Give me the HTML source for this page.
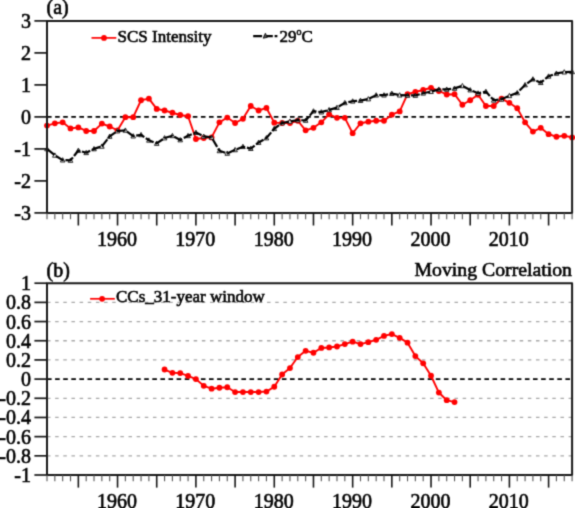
<!DOCTYPE html>
<html><head><meta charset="utf-8"><title>chart</title>
<style>html,body{margin:0;padding:0;background:#fff;width:575px;height:508px;overflow:hidden}svg{display:block}</style>
</head><body>
<svg width="575" height="508" viewBox="0 0 575 508">
<style>text{font-family:'Liberation Serif',serif;fill:#000;stroke:#000;stroke-width:0.6px;filter:grayscale(1)} .t20{font-size:20px} .t16{font-size:17px} .t18{font-size:19.75px}</style>
<defs><filter id="soft" color-interpolation-filters="sRGB" x="0" y="0" width="575" height="508" filterUnits="userSpaceOnUse"><feConvolveMatrix order="3" kernelMatrix="1 4 1 4 16 4 1 4 1" edgeMode="duplicate"/></filter></defs>
<g filter="url(#soft)">
<rect width="575" height="508" fill="#fff"/>
<line x1="47" y1="116.9" x2="572.1" y2="116.9" stroke="#000" stroke-width="1.8" stroke-dasharray="4.6 3.5"/>
<polyline points="47,125.54 54.84,123.3 62.67,122.34 70.51,128.42 78.35,127.46 86.19,130.98 94.02,130.98 101.86,123.62 109.7,126.5 117.54,130.34 125.37,117.22 133.21,117.22 141.05,100.26 148.89,98.66 156.72,108.9 164.56,110.5 172.4,112.74 180.23,114.98 188.07,116.26 195.91,138.98 203.75,138.02 211.58,137.38 219.42,122.34 227.26,117.54 235.1,122.98 242.93,118.82 250.77,106.02 258.61,110.5 266.44,107.94 274.28,122.66 282.12,122.98 289.96,122.98 297.79,120.74 305.63,130.34 313.47,127.78 321.31,122.34 329.14,114.34 336.98,117.86 344.82,117.86 352.66,133.22 360.49,123.3 368.33,121.7 376.17,120.74 384,120.74 391.84,114.66 399.68,111.46 407.52,94.18 415.35,91.94 423.19,90.02 431.03,87.78 438.87,90.98 446.7,94.5 454.54,94.18 462.38,104.74 470.21,100.26 478.05,94.82 485.89,106.02 493.73,106.02 501.56,98.66 509.4,102.82 517.24,108.26 525.08,122.34 532.91,131.62 540.75,127.78 548.59,134.18 556.43,136.74 564.26,135.78 572.1,137.38" fill="none" stroke="#ff0000" stroke-width="1.9" stroke-linejoin="round"/>
<circle cx="47" cy="125.54" r="2.9" fill="#ff0000"/>
<circle cx="54.84" cy="123.3" r="2.9" fill="#ff0000"/>
<circle cx="62.67" cy="122.34" r="2.9" fill="#ff0000"/>
<circle cx="70.51" cy="128.42" r="2.9" fill="#ff0000"/>
<circle cx="78.35" cy="127.46" r="2.9" fill="#ff0000"/>
<circle cx="86.19" cy="130.98" r="2.9" fill="#ff0000"/>
<circle cx="94.02" cy="130.98" r="2.9" fill="#ff0000"/>
<circle cx="101.86" cy="123.62" r="2.9" fill="#ff0000"/>
<circle cx="109.7" cy="126.5" r="2.9" fill="#ff0000"/>
<circle cx="117.54" cy="130.34" r="2.9" fill="#ff0000"/>
<circle cx="125.37" cy="117.22" r="2.9" fill="#ff0000"/>
<circle cx="133.21" cy="117.22" r="2.9" fill="#ff0000"/>
<circle cx="141.05" cy="100.26" r="2.9" fill="#ff0000"/>
<circle cx="148.89" cy="98.66" r="2.9" fill="#ff0000"/>
<circle cx="156.72" cy="108.9" r="2.9" fill="#ff0000"/>
<circle cx="164.56" cy="110.5" r="2.9" fill="#ff0000"/>
<circle cx="172.4" cy="112.74" r="2.9" fill="#ff0000"/>
<circle cx="180.23" cy="114.98" r="2.9" fill="#ff0000"/>
<circle cx="188.07" cy="116.26" r="2.9" fill="#ff0000"/>
<circle cx="195.91" cy="138.98" r="2.9" fill="#ff0000"/>
<circle cx="203.75" cy="138.02" r="2.9" fill="#ff0000"/>
<circle cx="211.58" cy="137.38" r="2.9" fill="#ff0000"/>
<circle cx="219.42" cy="122.34" r="2.9" fill="#ff0000"/>
<circle cx="227.26" cy="117.54" r="2.9" fill="#ff0000"/>
<circle cx="235.1" cy="122.98" r="2.9" fill="#ff0000"/>
<circle cx="242.93" cy="118.82" r="2.9" fill="#ff0000"/>
<circle cx="250.77" cy="106.02" r="2.9" fill="#ff0000"/>
<circle cx="258.61" cy="110.5" r="2.9" fill="#ff0000"/>
<circle cx="266.44" cy="107.94" r="2.9" fill="#ff0000"/>
<circle cx="274.28" cy="122.66" r="2.9" fill="#ff0000"/>
<circle cx="282.12" cy="122.98" r="2.9" fill="#ff0000"/>
<circle cx="289.96" cy="122.98" r="2.9" fill="#ff0000"/>
<circle cx="297.79" cy="120.74" r="2.9" fill="#ff0000"/>
<circle cx="305.63" cy="130.34" r="2.9" fill="#ff0000"/>
<circle cx="313.47" cy="127.78" r="2.9" fill="#ff0000"/>
<circle cx="321.31" cy="122.34" r="2.9" fill="#ff0000"/>
<circle cx="329.14" cy="114.34" r="2.9" fill="#ff0000"/>
<circle cx="336.98" cy="117.86" r="2.9" fill="#ff0000"/>
<circle cx="344.82" cy="117.86" r="2.9" fill="#ff0000"/>
<circle cx="352.66" cy="133.22" r="2.9" fill="#ff0000"/>
<circle cx="360.49" cy="123.3" r="2.9" fill="#ff0000"/>
<circle cx="368.33" cy="121.7" r="2.9" fill="#ff0000"/>
<circle cx="376.17" cy="120.74" r="2.9" fill="#ff0000"/>
<circle cx="384" cy="120.74" r="2.9" fill="#ff0000"/>
<circle cx="391.84" cy="114.66" r="2.9" fill="#ff0000"/>
<circle cx="399.68" cy="111.46" r="2.9" fill="#ff0000"/>
<circle cx="407.52" cy="94.18" r="2.9" fill="#ff0000"/>
<circle cx="415.35" cy="91.94" r="2.9" fill="#ff0000"/>
<circle cx="423.19" cy="90.02" r="2.9" fill="#ff0000"/>
<circle cx="431.03" cy="87.78" r="2.9" fill="#ff0000"/>
<circle cx="438.87" cy="90.98" r="2.9" fill="#ff0000"/>
<circle cx="446.7" cy="94.5" r="2.9" fill="#ff0000"/>
<circle cx="454.54" cy="94.18" r="2.9" fill="#ff0000"/>
<circle cx="462.38" cy="104.74" r="2.9" fill="#ff0000"/>
<circle cx="470.21" cy="100.26" r="2.9" fill="#ff0000"/>
<circle cx="478.05" cy="94.82" r="2.9" fill="#ff0000"/>
<circle cx="485.89" cy="106.02" r="2.9" fill="#ff0000"/>
<circle cx="493.73" cy="106.02" r="2.9" fill="#ff0000"/>
<circle cx="501.56" cy="98.66" r="2.9" fill="#ff0000"/>
<circle cx="509.4" cy="102.82" r="2.9" fill="#ff0000"/>
<circle cx="517.24" cy="108.26" r="2.9" fill="#ff0000"/>
<circle cx="525.08" cy="122.34" r="2.9" fill="#ff0000"/>
<circle cx="532.91" cy="131.62" r="2.9" fill="#ff0000"/>
<circle cx="540.75" cy="127.78" r="2.9" fill="#ff0000"/>
<circle cx="548.59" cy="134.18" r="2.9" fill="#ff0000"/>
<circle cx="556.43" cy="136.74" r="2.9" fill="#ff0000"/>
<circle cx="564.26" cy="135.78" r="2.9" fill="#ff0000"/>
<circle cx="572.1" cy="137.38" r="2.9" fill="#ff0000"/>
<path d="M47 146.5L49.3 150.8H44.7Z" fill="#fff" stroke="#111" stroke-width="0.9"/>
<path d="M54.84 152.9L57.14 157.2H52.54Z" fill="#fff" stroke="#111" stroke-width="0.9"/>
<path d="M62.67 157.7L64.97 162H60.37Z" fill="#fff" stroke="#111" stroke-width="0.9"/>
<path d="M70.51 158.02L72.81 162.32H68.21Z" fill="#fff" stroke="#111" stroke-width="0.9"/>
<path d="M78.35 148.1L80.65 152.4H76.05Z" fill="#fff" stroke="#111" stroke-width="0.9"/>
<path d="M86.19 150.34L88.49 154.64H83.89Z" fill="#fff" stroke="#111" stroke-width="0.9"/>
<path d="M94.02 146.5L96.32 150.8H91.72Z" fill="#fff" stroke="#111" stroke-width="0.9"/>
<path d="M101.86 143.94L104.16 148.24H99.56Z" fill="#fff" stroke="#111" stroke-width="0.9"/>
<path d="M109.7 134.02L112 138.32H107.4Z" fill="#fff" stroke="#111" stroke-width="0.9"/>
<path d="M117.54 128.58L119.84 132.88H115.24Z" fill="#fff" stroke="#111" stroke-width="0.9"/>
<path d="M125.37 127.94L127.67 132.24H123.07Z" fill="#fff" stroke="#111" stroke-width="0.9"/>
<path d="M133.21 133.7L135.51 138H130.91Z" fill="#fff" stroke="#111" stroke-width="0.9"/>
<path d="M141.05 132.42L143.35 136.72H138.75Z" fill="#fff" stroke="#111" stroke-width="0.9"/>
<path d="M148.89 137.86L151.19 142.16H146.59Z" fill="#fff" stroke="#111" stroke-width="0.9"/>
<path d="M156.72 141.06L159.02 145.36H154.42Z" fill="#fff" stroke="#111" stroke-width="0.9"/>
<path d="M164.56 135.62L166.86 139.92H162.26Z" fill="#fff" stroke="#111" stroke-width="0.9"/>
<path d="M172.4 133.38L174.7 137.68H170.1Z" fill="#fff" stroke="#111" stroke-width="0.9"/>
<path d="M180.23 137.54L182.53 141.84H177.93Z" fill="#fff" stroke="#111" stroke-width="0.9"/>
<path d="M188.07 133.38L190.37 137.68H185.77Z" fill="#fff" stroke="#111" stroke-width="0.9"/>
<path d="M195.91 130.18L198.21 134.48H193.61Z" fill="#fff" stroke="#111" stroke-width="0.9"/>
<path d="M203.75 134.02L206.05 138.32H201.45Z" fill="#fff" stroke="#111" stroke-width="0.9"/>
<path d="M211.58 134.98L213.88 139.28H209.28Z" fill="#fff" stroke="#111" stroke-width="0.9"/>
<path d="M219.42 148.42L221.72 152.72H217.12Z" fill="#fff" stroke="#111" stroke-width="0.9"/>
<path d="M227.26 150.98L229.56 155.28H224.96Z" fill="#fff" stroke="#111" stroke-width="0.9"/>
<path d="M235.1 147.46L237.4 151.76H232.8Z" fill="#fff" stroke="#111" stroke-width="0.9"/>
<path d="M242.93 144.26L245.23 148.56H240.63Z" fill="#fff" stroke="#111" stroke-width="0.9"/>
<path d="M250.77 146.18L253.07 150.48H248.47Z" fill="#fff" stroke="#111" stroke-width="0.9"/>
<path d="M258.61 140.1L260.91 144.4H256.31Z" fill="#fff" stroke="#111" stroke-width="0.9"/>
<path d="M266.44 135.62L268.74 139.92H264.14Z" fill="#fff" stroke="#111" stroke-width="0.9"/>
<path d="M274.28 126.34L276.58 130.64H271.98Z" fill="#fff" stroke="#111" stroke-width="0.9"/>
<path d="M282.12 120.58L284.42 124.88H279.82Z" fill="#fff" stroke="#111" stroke-width="0.9"/>
<path d="M289.96 118.98L292.26 123.28H287.66Z" fill="#fff" stroke="#111" stroke-width="0.9"/>
<path d="M297.79 117.7L300.09 122H295.49Z" fill="#fff" stroke="#111" stroke-width="0.9"/>
<path d="M305.63 118.02L307.93 122.32H303.33Z" fill="#fff" stroke="#111" stroke-width="0.9"/>
<path d="M313.47 108.74L315.77 113.04H311.17Z" fill="#fff" stroke="#111" stroke-width="0.9"/>
<path d="M321.31 109.7L323.61 114H319.01Z" fill="#fff" stroke="#111" stroke-width="0.9"/>
<path d="M329.14 107.46L331.44 111.76H326.84Z" fill="#fff" stroke="#111" stroke-width="0.9"/>
<path d="M336.98 105.22L339.28 109.52H334.68Z" fill="#fff" stroke="#111" stroke-width="0.9"/>
<path d="M344.82 100.42L347.12 104.72H342.52Z" fill="#fff" stroke="#111" stroke-width="0.9"/>
<path d="M352.66 98.82L354.96 103.12H350.36Z" fill="#fff" stroke="#111" stroke-width="0.9"/>
<path d="M360.49 98.18L362.79 102.48H358.19Z" fill="#fff" stroke="#111" stroke-width="0.9"/>
<path d="M368.33 96.58L370.63 100.88H366.03Z" fill="#fff" stroke="#111" stroke-width="0.9"/>
<path d="M376.17 92.74L378.47 97.04H373.87Z" fill="#fff" stroke="#111" stroke-width="0.9"/>
<path d="M384 92.74L386.3 97.04H381.7Z" fill="#fff" stroke="#111" stroke-width="0.9"/>
<path d="M391.84 91.14L394.14 95.44H389.54Z" fill="#fff" stroke="#111" stroke-width="0.9"/>
<path d="M399.68 92.74L401.98 97.04H397.38Z" fill="#fff" stroke="#111" stroke-width="0.9"/>
<path d="M407.52 93.06L409.82 97.36H405.22Z" fill="#fff" stroke="#111" stroke-width="0.9"/>
<path d="M415.35 93.06L417.65 97.36H413.05Z" fill="#fff" stroke="#111" stroke-width="0.9"/>
<path d="M423.19 90.82L425.49 95.12H420.89Z" fill="#fff" stroke="#111" stroke-width="0.9"/>
<path d="M431.03 89.22L433.33 93.52H428.73Z" fill="#fff" stroke="#111" stroke-width="0.9"/>
<path d="M438.87 86.98L441.17 91.28H436.57Z" fill="#fff" stroke="#111" stroke-width="0.9"/>
<path d="M446.7 86.98L449 91.28H444.4Z" fill="#fff" stroke="#111" stroke-width="0.9"/>
<path d="M454.54 86.02L456.84 90.32H452.24Z" fill="#fff" stroke="#111" stroke-width="0.9"/>
<path d="M462.38 83.46L464.68 87.76H460.08Z" fill="#fff" stroke="#111" stroke-width="0.9"/>
<path d="M470.21 87.62L472.51 91.92H467.91Z" fill="#fff" stroke="#111" stroke-width="0.9"/>
<path d="M478.05 90.82L480.35 95.12H475.75Z" fill="#fff" stroke="#111" stroke-width="0.9"/>
<path d="M485.89 89.22L488.19 93.52H483.59Z" fill="#fff" stroke="#111" stroke-width="0.9"/>
<path d="M493.73 97.86L496.03 102.16H491.43Z" fill="#fff" stroke="#111" stroke-width="0.9"/>
<path d="M501.56 96.9L503.86 101.2H499.26Z" fill="#fff" stroke="#111" stroke-width="0.9"/>
<path d="M509.4 93.38L511.7 97.68H507.1Z" fill="#fff" stroke="#111" stroke-width="0.9"/>
<path d="M517.24 90.5L519.54 94.8H514.94Z" fill="#fff" stroke="#111" stroke-width="0.9"/>
<path d="M525.08 82.5L527.38 86.8H522.78Z" fill="#fff" stroke="#111" stroke-width="0.9"/>
<path d="M532.91 76.74L535.21 81.04H530.61Z" fill="#fff" stroke="#111" stroke-width="0.9"/>
<path d="M540.75 80.26L543.05 84.56H538.45Z" fill="#fff" stroke="#111" stroke-width="0.9"/>
<path d="M548.59 73.86L550.89 78.16H546.29Z" fill="#fff" stroke="#111" stroke-width="0.9"/>
<path d="M556.43 70.98L558.73 75.28H554.13Z" fill="#fff" stroke="#111" stroke-width="0.9"/>
<path d="M564.26 69.7L566.56 74H561.96Z" fill="#fff" stroke="#111" stroke-width="0.9"/>
<path d="M572.1 69.38L574.4 73.68H569.8Z" fill="#fff" stroke="#111" stroke-width="0.9"/>
<polyline points="47,148.9 54.84,155.3 62.67,160.1 70.51,160.42 78.35,150.5 86.19,152.74 94.02,148.9 101.86,146.34 109.7,136.42 117.54,130.98 125.37,130.34 133.21,136.1 141.05,134.82 148.89,140.26 156.72,143.46 164.56,138.02 172.4,135.78 180.23,139.94 188.07,135.78 195.91,132.58 203.75,136.42 211.58,137.38 219.42,150.82 227.26,153.38 235.1,149.86 242.93,146.66 250.77,148.58 258.61,142.5 266.44,138.02 274.28,128.74 282.12,122.98 289.96,121.38 297.79,120.1 305.63,120.42 313.47,111.14 321.31,112.1 329.14,109.86 336.98,107.62 344.82,102.82 352.66,101.22 360.49,100.58 368.33,98.98 376.17,95.14 384,95.14 391.84,93.54 399.68,95.14 407.52,95.46 415.35,95.46 423.19,93.22 431.03,91.62 438.87,89.38 446.7,89.38 454.54,88.42 462.38,85.86 470.21,90.02 478.05,93.22 485.89,91.62 493.73,100.26 501.56,99.3 509.4,95.78 517.24,92.9 525.08,84.9 532.91,79.14 540.75,82.66 548.59,76.26 556.43,73.38 564.26,72.1 572.1,71.78" fill="none" stroke="#000" stroke-width="2.2" stroke-linejoin="round" stroke-dasharray="8.9 1.8" stroke-dashoffset="-0.7"/>
<path d="M47 20.9H572.1V212.9H47Z" fill="none" stroke="#181818" stroke-width="2.0" stroke-linejoin="round"/>
<line x1="34.4" y1="212.9" x2="47" y2="212.9" stroke="#181818" stroke-width="1.7"/>
<text x="31" y="219.9" text-anchor="end" class="t20">-3</text>
<line x1="34.4" y1="180.9" x2="47" y2="180.9" stroke="#181818" stroke-width="1.7"/>
<text x="31" y="187.9" text-anchor="end" class="t20">-2</text>
<line x1="34.4" y1="148.9" x2="47" y2="148.9" stroke="#181818" stroke-width="1.7"/>
<text x="31" y="155.9" text-anchor="end" class="t20">-1</text>
<line x1="34.4" y1="116.9" x2="47" y2="116.9" stroke="#181818" stroke-width="1.7"/>
<text x="31" y="123.9" text-anchor="end" class="t20">0</text>
<line x1="34.4" y1="84.9" x2="47" y2="84.9" stroke="#181818" stroke-width="1.7"/>
<text x="31" y="91.9" text-anchor="end" class="t20">1</text>
<line x1="34.4" y1="52.9" x2="47" y2="52.9" stroke="#181818" stroke-width="1.7"/>
<text x="31" y="59.9" text-anchor="end" class="t20">2</text>
<line x1="34.4" y1="20.9" x2="47" y2="20.9" stroke="#181818" stroke-width="1.7"/>
<text x="31" y="27.9" text-anchor="end" class="t20">3</text>
<line x1="47" y1="212.9" x2="47" y2="219.2" stroke="#555" stroke-width="1.1"/>
<line x1="54.84" y1="212.9" x2="54.84" y2="219.2" stroke="#555" stroke-width="1.1"/>
<line x1="62.67" y1="212.9" x2="62.67" y2="219.2" stroke="#555" stroke-width="1.1"/>
<line x1="70.51" y1="212.9" x2="70.51" y2="219.2" stroke="#555" stroke-width="1.1"/>
<line x1="78.35" y1="212.9" x2="78.35" y2="225.5" stroke="#181818" stroke-width="1.6"/>
<line x1="86.19" y1="212.9" x2="86.19" y2="219.2" stroke="#555" stroke-width="1.1"/>
<line x1="94.02" y1="212.9" x2="94.02" y2="219.2" stroke="#555" stroke-width="1.1"/>
<line x1="101.86" y1="212.9" x2="101.86" y2="219.2" stroke="#555" stroke-width="1.1"/>
<line x1="109.7" y1="212.9" x2="109.7" y2="219.2" stroke="#555" stroke-width="1.1"/>
<line x1="117.54" y1="212.9" x2="117.54" y2="225.5" stroke="#181818" stroke-width="1.6"/>
<line x1="125.37" y1="212.9" x2="125.37" y2="219.2" stroke="#555" stroke-width="1.1"/>
<line x1="133.21" y1="212.9" x2="133.21" y2="219.2" stroke="#555" stroke-width="1.1"/>
<line x1="141.05" y1="212.9" x2="141.05" y2="219.2" stroke="#555" stroke-width="1.1"/>
<line x1="148.89" y1="212.9" x2="148.89" y2="219.2" stroke="#555" stroke-width="1.1"/>
<line x1="156.72" y1="212.9" x2="156.72" y2="225.5" stroke="#181818" stroke-width="1.6"/>
<line x1="164.56" y1="212.9" x2="164.56" y2="219.2" stroke="#555" stroke-width="1.1"/>
<line x1="172.4" y1="212.9" x2="172.4" y2="219.2" stroke="#555" stroke-width="1.1"/>
<line x1="180.23" y1="212.9" x2="180.23" y2="219.2" stroke="#555" stroke-width="1.1"/>
<line x1="188.07" y1="212.9" x2="188.07" y2="219.2" stroke="#555" stroke-width="1.1"/>
<line x1="195.91" y1="212.9" x2="195.91" y2="225.5" stroke="#181818" stroke-width="1.6"/>
<line x1="203.75" y1="212.9" x2="203.75" y2="219.2" stroke="#555" stroke-width="1.1"/>
<line x1="211.58" y1="212.9" x2="211.58" y2="219.2" stroke="#555" stroke-width="1.1"/>
<line x1="219.42" y1="212.9" x2="219.42" y2="219.2" stroke="#555" stroke-width="1.1"/>
<line x1="227.26" y1="212.9" x2="227.26" y2="219.2" stroke="#555" stroke-width="1.1"/>
<line x1="235.1" y1="212.9" x2="235.1" y2="225.5" stroke="#181818" stroke-width="1.6"/>
<line x1="242.93" y1="212.9" x2="242.93" y2="219.2" stroke="#555" stroke-width="1.1"/>
<line x1="250.77" y1="212.9" x2="250.77" y2="219.2" stroke="#555" stroke-width="1.1"/>
<line x1="258.61" y1="212.9" x2="258.61" y2="219.2" stroke="#555" stroke-width="1.1"/>
<line x1="266.44" y1="212.9" x2="266.44" y2="219.2" stroke="#555" stroke-width="1.1"/>
<line x1="274.28" y1="212.9" x2="274.28" y2="225.5" stroke="#181818" stroke-width="1.6"/>
<line x1="282.12" y1="212.9" x2="282.12" y2="219.2" stroke="#555" stroke-width="1.1"/>
<line x1="289.96" y1="212.9" x2="289.96" y2="219.2" stroke="#555" stroke-width="1.1"/>
<line x1="297.79" y1="212.9" x2="297.79" y2="219.2" stroke="#555" stroke-width="1.1"/>
<line x1="305.63" y1="212.9" x2="305.63" y2="219.2" stroke="#555" stroke-width="1.1"/>
<line x1="313.47" y1="212.9" x2="313.47" y2="225.5" stroke="#181818" stroke-width="1.6"/>
<line x1="321.31" y1="212.9" x2="321.31" y2="219.2" stroke="#555" stroke-width="1.1"/>
<line x1="329.14" y1="212.9" x2="329.14" y2="219.2" stroke="#555" stroke-width="1.1"/>
<line x1="336.98" y1="212.9" x2="336.98" y2="219.2" stroke="#555" stroke-width="1.1"/>
<line x1="344.82" y1="212.9" x2="344.82" y2="219.2" stroke="#555" stroke-width="1.1"/>
<line x1="352.66" y1="212.9" x2="352.66" y2="225.5" stroke="#181818" stroke-width="1.6"/>
<line x1="360.49" y1="212.9" x2="360.49" y2="219.2" stroke="#555" stroke-width="1.1"/>
<line x1="368.33" y1="212.9" x2="368.33" y2="219.2" stroke="#555" stroke-width="1.1"/>
<line x1="376.17" y1="212.9" x2="376.17" y2="219.2" stroke="#555" stroke-width="1.1"/>
<line x1="384" y1="212.9" x2="384" y2="219.2" stroke="#555" stroke-width="1.1"/>
<line x1="391.84" y1="212.9" x2="391.84" y2="225.5" stroke="#181818" stroke-width="1.6"/>
<line x1="399.68" y1="212.9" x2="399.68" y2="219.2" stroke="#555" stroke-width="1.1"/>
<line x1="407.52" y1="212.9" x2="407.52" y2="219.2" stroke="#555" stroke-width="1.1"/>
<line x1="415.35" y1="212.9" x2="415.35" y2="219.2" stroke="#555" stroke-width="1.1"/>
<line x1="423.19" y1="212.9" x2="423.19" y2="219.2" stroke="#555" stroke-width="1.1"/>
<line x1="431.03" y1="212.9" x2="431.03" y2="225.5" stroke="#181818" stroke-width="1.6"/>
<line x1="438.87" y1="212.9" x2="438.87" y2="219.2" stroke="#555" stroke-width="1.1"/>
<line x1="446.7" y1="212.9" x2="446.7" y2="219.2" stroke="#555" stroke-width="1.1"/>
<line x1="454.54" y1="212.9" x2="454.54" y2="219.2" stroke="#555" stroke-width="1.1"/>
<line x1="462.38" y1="212.9" x2="462.38" y2="219.2" stroke="#555" stroke-width="1.1"/>
<line x1="470.21" y1="212.9" x2="470.21" y2="225.5" stroke="#181818" stroke-width="1.6"/>
<line x1="478.05" y1="212.9" x2="478.05" y2="219.2" stroke="#555" stroke-width="1.1"/>
<line x1="485.89" y1="212.9" x2="485.89" y2="219.2" stroke="#555" stroke-width="1.1"/>
<line x1="493.73" y1="212.9" x2="493.73" y2="219.2" stroke="#555" stroke-width="1.1"/>
<line x1="501.56" y1="212.9" x2="501.56" y2="219.2" stroke="#555" stroke-width="1.1"/>
<line x1="509.4" y1="212.9" x2="509.4" y2="225.5" stroke="#181818" stroke-width="1.6"/>
<line x1="517.24" y1="212.9" x2="517.24" y2="219.2" stroke="#555" stroke-width="1.1"/>
<line x1="525.08" y1="212.9" x2="525.08" y2="219.2" stroke="#555" stroke-width="1.1"/>
<line x1="532.91" y1="212.9" x2="532.91" y2="219.2" stroke="#555" stroke-width="1.1"/>
<line x1="540.75" y1="212.9" x2="540.75" y2="219.2" stroke="#555" stroke-width="1.1"/>
<line x1="548.59" y1="212.9" x2="548.59" y2="225.5" stroke="#181818" stroke-width="1.6"/>
<line x1="556.43" y1="212.9" x2="556.43" y2="219.2" stroke="#555" stroke-width="1.1"/>
<line x1="564.26" y1="212.9" x2="564.26" y2="219.2" stroke="#555" stroke-width="1.1"/>
<line x1="572.1" y1="212.9" x2="572.1" y2="219.2" stroke="#555" stroke-width="1.1"/>
<text x="116.94" y="245.7" text-anchor="middle" class="t20">1960</text>
<text x="195.31" y="245.7" text-anchor="middle" class="t20">1970</text>
<text x="273.68" y="245.7" text-anchor="middle" class="t20">1980</text>
<text x="352.06" y="245.7" text-anchor="middle" class="t20">1990</text>
<text x="430.43" y="245.7" text-anchor="middle" class="t20">2000</text>
<text x="508.8" y="245.7" text-anchor="middle" class="t20">2010</text>
<text x="46.5" y="13.9" class="t20">(a)</text>
<line x1="91.5" y1="37.9" x2="116.3" y2="37.9" stroke="#ff0000" stroke-width="1.7"/>
<circle cx="104" cy="37.9" r="2.9" fill="#ff0000"/>
<text x="117.5" y="42.2" class="t16">SCS Intensity</text>
<line x1="253.2" y1="36.1" x2="277.4" y2="36.1" stroke="#000" stroke-width="2.4" stroke-dasharray="8.9 1.8"/>
<path d="M265.4 33.2L267.3 37.4L263.2 38.2Z" fill="#555" stroke="#111" stroke-width="0.9"/>
<text x="279.5" y="42.4" class="t16">29<tspan font-size="10" dy="-7.4">o</tspan><tspan dy="7.4">C</tspan></text>
<line x1="47" y1="455.82" x2="572.1" y2="455.82" stroke="#a8a8a8" stroke-width="1.3" stroke-dasharray="3.5 4.65"/>
<line x1="47" y1="436.64" x2="572.1" y2="436.64" stroke="#a8a8a8" stroke-width="1.3" stroke-dasharray="3.5 4.65"/>
<line x1="47" y1="417.46" x2="572.1" y2="417.46" stroke="#a8a8a8" stroke-width="1.3" stroke-dasharray="3.5 4.65"/>
<line x1="47" y1="398.28" x2="572.1" y2="398.28" stroke="#a8a8a8" stroke-width="1.3" stroke-dasharray="3.5 4.65"/>
<line x1="47" y1="359.92" x2="572.1" y2="359.92" stroke="#a8a8a8" stroke-width="1.3" stroke-dasharray="3.5 4.65"/>
<line x1="47" y1="340.74" x2="572.1" y2="340.74" stroke="#a8a8a8" stroke-width="1.3" stroke-dasharray="3.5 4.65"/>
<line x1="47" y1="321.56" x2="572.1" y2="321.56" stroke="#a8a8a8" stroke-width="1.3" stroke-dasharray="3.5 4.65"/>
<line x1="47" y1="302.38" x2="572.1" y2="302.38" stroke="#a8a8a8" stroke-width="1.3" stroke-dasharray="3.5 4.65"/>
<line x1="47" y1="379.1" x2="572.1" y2="379.1" stroke="#000" stroke-width="1.8" stroke-dasharray="4.6 3.5"/>
<polyline points="164.56,369.51 172.4,372.87 180.23,373.06 188.07,375.94 195.91,379.1 203.75,385.81 211.58,388.69 219.42,387.73 227.26,387.25 235.1,392.05 242.93,392.05 250.77,392.05 258.61,392.05 266.44,391.57 274.28,386.77 282.12,374.5 289.96,368.07 297.79,357.04 305.63,350.81 313.47,352.73 321.31,347.93 329.14,347.45 336.98,346.49 344.82,344.1 352.66,341.7 360.49,344.1 368.33,342.18 376.17,339.78 384,335.95 391.84,334.03 399.68,337.86 407.52,342.66 415.35,356.08 423.19,363.28 431.03,375.74 438.87,392.53 446.7,400.2 454.54,402.12" fill="none" stroke="#ff0000" stroke-width="1.9" stroke-linejoin="round"/>
<circle cx="164.56" cy="369.51" r="2.9" fill="#ff0000"/>
<circle cx="172.4" cy="372.87" r="2.9" fill="#ff0000"/>
<circle cx="180.23" cy="373.06" r="2.9" fill="#ff0000"/>
<circle cx="188.07" cy="375.94" r="2.9" fill="#ff0000"/>
<circle cx="195.91" cy="379.1" r="2.9" fill="#ff0000"/>
<circle cx="203.75" cy="385.81" r="2.9" fill="#ff0000"/>
<circle cx="211.58" cy="388.69" r="2.9" fill="#ff0000"/>
<circle cx="219.42" cy="387.73" r="2.9" fill="#ff0000"/>
<circle cx="227.26" cy="387.25" r="2.9" fill="#ff0000"/>
<circle cx="235.1" cy="392.05" r="2.9" fill="#ff0000"/>
<circle cx="242.93" cy="392.05" r="2.9" fill="#ff0000"/>
<circle cx="250.77" cy="392.05" r="2.9" fill="#ff0000"/>
<circle cx="258.61" cy="392.05" r="2.9" fill="#ff0000"/>
<circle cx="266.44" cy="391.57" r="2.9" fill="#ff0000"/>
<circle cx="274.28" cy="386.77" r="2.9" fill="#ff0000"/>
<circle cx="282.12" cy="374.5" r="2.9" fill="#ff0000"/>
<circle cx="289.96" cy="368.07" r="2.9" fill="#ff0000"/>
<circle cx="297.79" cy="357.04" r="2.9" fill="#ff0000"/>
<circle cx="305.63" cy="350.81" r="2.9" fill="#ff0000"/>
<circle cx="313.47" cy="352.73" r="2.9" fill="#ff0000"/>
<circle cx="321.31" cy="347.93" r="2.9" fill="#ff0000"/>
<circle cx="329.14" cy="347.45" r="2.9" fill="#ff0000"/>
<circle cx="336.98" cy="346.49" r="2.9" fill="#ff0000"/>
<circle cx="344.82" cy="344.1" r="2.9" fill="#ff0000"/>
<circle cx="352.66" cy="341.7" r="2.9" fill="#ff0000"/>
<circle cx="360.49" cy="344.1" r="2.9" fill="#ff0000"/>
<circle cx="368.33" cy="342.18" r="2.9" fill="#ff0000"/>
<circle cx="376.17" cy="339.78" r="2.9" fill="#ff0000"/>
<circle cx="384" cy="335.95" r="2.9" fill="#ff0000"/>
<circle cx="391.84" cy="334.03" r="2.9" fill="#ff0000"/>
<circle cx="399.68" cy="337.86" r="2.9" fill="#ff0000"/>
<circle cx="407.52" cy="342.66" r="2.9" fill="#ff0000"/>
<circle cx="415.35" cy="356.08" r="2.9" fill="#ff0000"/>
<circle cx="423.19" cy="363.28" r="2.9" fill="#ff0000"/>
<circle cx="431.03" cy="375.74" r="2.9" fill="#ff0000"/>
<circle cx="438.87" cy="392.53" r="2.9" fill="#ff0000"/>
<circle cx="446.7" cy="400.2" r="2.9" fill="#ff0000"/>
<circle cx="454.54" cy="402.12" r="2.9" fill="#ff0000"/>
<path d="M47 283.2H572.1V475H47Z" fill="none" stroke="#181818" stroke-width="2.0" stroke-linejoin="round"/>
<line x1="34.4" y1="475" x2="47" y2="475" stroke="#181818" stroke-width="1.7"/>
<text x="31" y="482" text-anchor="end" class="t20">-1</text>
<line x1="34.4" y1="455.82" x2="47" y2="455.82" stroke="#181818" stroke-width="1.7"/>
<text x="31" y="462.82" text-anchor="end" class="t20">-0.8</text>
<line x1="34.4" y1="436.64" x2="47" y2="436.64" stroke="#181818" stroke-width="1.7"/>
<text x="31" y="443.64" text-anchor="end" class="t20">-0.6</text>
<line x1="34.4" y1="417.46" x2="47" y2="417.46" stroke="#181818" stroke-width="1.7"/>
<text x="31" y="424.46" text-anchor="end" class="t20">-0.4</text>
<line x1="34.4" y1="398.28" x2="47" y2="398.28" stroke="#181818" stroke-width="1.7"/>
<text x="31" y="405.28" text-anchor="end" class="t20">-0.2</text>
<line x1="34.4" y1="379.1" x2="47" y2="379.1" stroke="#181818" stroke-width="1.7"/>
<text x="31" y="386.1" text-anchor="end" class="t20">0</text>
<line x1="34.4" y1="359.92" x2="47" y2="359.92" stroke="#181818" stroke-width="1.7"/>
<text x="31" y="366.92" text-anchor="end" class="t20">0.2</text>
<line x1="34.4" y1="340.74" x2="47" y2="340.74" stroke="#181818" stroke-width="1.7"/>
<text x="31" y="347.74" text-anchor="end" class="t20">0.4</text>
<line x1="34.4" y1="321.56" x2="47" y2="321.56" stroke="#181818" stroke-width="1.7"/>
<text x="31" y="328.56" text-anchor="end" class="t20">0.6</text>
<line x1="34.4" y1="302.38" x2="47" y2="302.38" stroke="#181818" stroke-width="1.7"/>
<text x="31" y="309.38" text-anchor="end" class="t20">0.8</text>
<line x1="34.4" y1="283.2" x2="47" y2="283.2" stroke="#181818" stroke-width="1.7"/>
<text x="31" y="290.2" text-anchor="end" class="t20">1</text>
<line x1="47" y1="475" x2="47" y2="481.3" stroke="#555" stroke-width="1.1"/>
<line x1="54.84" y1="475" x2="54.84" y2="481.3" stroke="#555" stroke-width="1.1"/>
<line x1="62.67" y1="475" x2="62.67" y2="481.3" stroke="#555" stroke-width="1.1"/>
<line x1="70.51" y1="475" x2="70.51" y2="481.3" stroke="#555" stroke-width="1.1"/>
<line x1="78.35" y1="475" x2="78.35" y2="487.6" stroke="#181818" stroke-width="1.6"/>
<line x1="86.19" y1="475" x2="86.19" y2="481.3" stroke="#555" stroke-width="1.1"/>
<line x1="94.02" y1="475" x2="94.02" y2="481.3" stroke="#555" stroke-width="1.1"/>
<line x1="101.86" y1="475" x2="101.86" y2="481.3" stroke="#555" stroke-width="1.1"/>
<line x1="109.7" y1="475" x2="109.7" y2="481.3" stroke="#555" stroke-width="1.1"/>
<line x1="117.54" y1="475" x2="117.54" y2="487.6" stroke="#181818" stroke-width="1.6"/>
<line x1="125.37" y1="475" x2="125.37" y2="481.3" stroke="#555" stroke-width="1.1"/>
<line x1="133.21" y1="475" x2="133.21" y2="481.3" stroke="#555" stroke-width="1.1"/>
<line x1="141.05" y1="475" x2="141.05" y2="481.3" stroke="#555" stroke-width="1.1"/>
<line x1="148.89" y1="475" x2="148.89" y2="481.3" stroke="#555" stroke-width="1.1"/>
<line x1="156.72" y1="475" x2="156.72" y2="487.6" stroke="#181818" stroke-width="1.6"/>
<line x1="164.56" y1="475" x2="164.56" y2="481.3" stroke="#555" stroke-width="1.1"/>
<line x1="172.4" y1="475" x2="172.4" y2="481.3" stroke="#555" stroke-width="1.1"/>
<line x1="180.23" y1="475" x2="180.23" y2="481.3" stroke="#555" stroke-width="1.1"/>
<line x1="188.07" y1="475" x2="188.07" y2="481.3" stroke="#555" stroke-width="1.1"/>
<line x1="195.91" y1="475" x2="195.91" y2="487.6" stroke="#181818" stroke-width="1.6"/>
<line x1="203.75" y1="475" x2="203.75" y2="481.3" stroke="#555" stroke-width="1.1"/>
<line x1="211.58" y1="475" x2="211.58" y2="481.3" stroke="#555" stroke-width="1.1"/>
<line x1="219.42" y1="475" x2="219.42" y2="481.3" stroke="#555" stroke-width="1.1"/>
<line x1="227.26" y1="475" x2="227.26" y2="481.3" stroke="#555" stroke-width="1.1"/>
<line x1="235.1" y1="475" x2="235.1" y2="487.6" stroke="#181818" stroke-width="1.6"/>
<line x1="242.93" y1="475" x2="242.93" y2="481.3" stroke="#555" stroke-width="1.1"/>
<line x1="250.77" y1="475" x2="250.77" y2="481.3" stroke="#555" stroke-width="1.1"/>
<line x1="258.61" y1="475" x2="258.61" y2="481.3" stroke="#555" stroke-width="1.1"/>
<line x1="266.44" y1="475" x2="266.44" y2="481.3" stroke="#555" stroke-width="1.1"/>
<line x1="274.28" y1="475" x2="274.28" y2="487.6" stroke="#181818" stroke-width="1.6"/>
<line x1="282.12" y1="475" x2="282.12" y2="481.3" stroke="#555" stroke-width="1.1"/>
<line x1="289.96" y1="475" x2="289.96" y2="481.3" stroke="#555" stroke-width="1.1"/>
<line x1="297.79" y1="475" x2="297.79" y2="481.3" stroke="#555" stroke-width="1.1"/>
<line x1="305.63" y1="475" x2="305.63" y2="481.3" stroke="#555" stroke-width="1.1"/>
<line x1="313.47" y1="475" x2="313.47" y2="487.6" stroke="#181818" stroke-width="1.6"/>
<line x1="321.31" y1="475" x2="321.31" y2="481.3" stroke="#555" stroke-width="1.1"/>
<line x1="329.14" y1="475" x2="329.14" y2="481.3" stroke="#555" stroke-width="1.1"/>
<line x1="336.98" y1="475" x2="336.98" y2="481.3" stroke="#555" stroke-width="1.1"/>
<line x1="344.82" y1="475" x2="344.82" y2="481.3" stroke="#555" stroke-width="1.1"/>
<line x1="352.66" y1="475" x2="352.66" y2="487.6" stroke="#181818" stroke-width="1.6"/>
<line x1="360.49" y1="475" x2="360.49" y2="481.3" stroke="#555" stroke-width="1.1"/>
<line x1="368.33" y1="475" x2="368.33" y2="481.3" stroke="#555" stroke-width="1.1"/>
<line x1="376.17" y1="475" x2="376.17" y2="481.3" stroke="#555" stroke-width="1.1"/>
<line x1="384" y1="475" x2="384" y2="481.3" stroke="#555" stroke-width="1.1"/>
<line x1="391.84" y1="475" x2="391.84" y2="487.6" stroke="#181818" stroke-width="1.6"/>
<line x1="399.68" y1="475" x2="399.68" y2="481.3" stroke="#555" stroke-width="1.1"/>
<line x1="407.52" y1="475" x2="407.52" y2="481.3" stroke="#555" stroke-width="1.1"/>
<line x1="415.35" y1="475" x2="415.35" y2="481.3" stroke="#555" stroke-width="1.1"/>
<line x1="423.19" y1="475" x2="423.19" y2="481.3" stroke="#555" stroke-width="1.1"/>
<line x1="431.03" y1="475" x2="431.03" y2="487.6" stroke="#181818" stroke-width="1.6"/>
<line x1="438.87" y1="475" x2="438.87" y2="481.3" stroke="#555" stroke-width="1.1"/>
<line x1="446.7" y1="475" x2="446.7" y2="481.3" stroke="#555" stroke-width="1.1"/>
<line x1="454.54" y1="475" x2="454.54" y2="481.3" stroke="#555" stroke-width="1.1"/>
<line x1="462.38" y1="475" x2="462.38" y2="481.3" stroke="#555" stroke-width="1.1"/>
<line x1="470.21" y1="475" x2="470.21" y2="487.6" stroke="#181818" stroke-width="1.6"/>
<line x1="478.05" y1="475" x2="478.05" y2="481.3" stroke="#555" stroke-width="1.1"/>
<line x1="485.89" y1="475" x2="485.89" y2="481.3" stroke="#555" stroke-width="1.1"/>
<line x1="493.73" y1="475" x2="493.73" y2="481.3" stroke="#555" stroke-width="1.1"/>
<line x1="501.56" y1="475" x2="501.56" y2="481.3" stroke="#555" stroke-width="1.1"/>
<line x1="509.4" y1="475" x2="509.4" y2="487.6" stroke="#181818" stroke-width="1.6"/>
<line x1="517.24" y1="475" x2="517.24" y2="481.3" stroke="#555" stroke-width="1.1"/>
<line x1="525.08" y1="475" x2="525.08" y2="481.3" stroke="#555" stroke-width="1.1"/>
<line x1="532.91" y1="475" x2="532.91" y2="481.3" stroke="#555" stroke-width="1.1"/>
<line x1="540.75" y1="475" x2="540.75" y2="481.3" stroke="#555" stroke-width="1.1"/>
<line x1="548.59" y1="475" x2="548.59" y2="487.6" stroke="#181818" stroke-width="1.6"/>
<line x1="556.43" y1="475" x2="556.43" y2="481.3" stroke="#555" stroke-width="1.1"/>
<line x1="564.26" y1="475" x2="564.26" y2="481.3" stroke="#555" stroke-width="1.1"/>
<line x1="572.1" y1="475" x2="572.1" y2="481.3" stroke="#555" stroke-width="1.1"/>
<text x="116.94" y="507.8" text-anchor="middle" class="t20">1960</text>
<text x="195.31" y="507.8" text-anchor="middle" class="t20">1970</text>
<text x="273.68" y="507.8" text-anchor="middle" class="t20">1980</text>
<text x="352.06" y="507.8" text-anchor="middle" class="t20">1990</text>
<text x="430.43" y="507.8" text-anchor="middle" class="t20">2000</text>
<text x="508.8" y="507.8" text-anchor="middle" class="t20">2010</text>
<text x="46.5" y="276.8" class="t20">(b)</text>
<text x="572" y="276.2" text-anchor="end" class="t18">Moving Correlation</text>
<line x1="90.1" y1="298.8" x2="114.8" y2="298.8" stroke="#ff0000" stroke-width="1.7"/>
<circle cx="102.1" cy="298.8" r="2.9" fill="#ff0000"/>
<text x="116" y="302.4" class="t16">CCs_31-year window</text>
</g>
</svg>
</body></html>
